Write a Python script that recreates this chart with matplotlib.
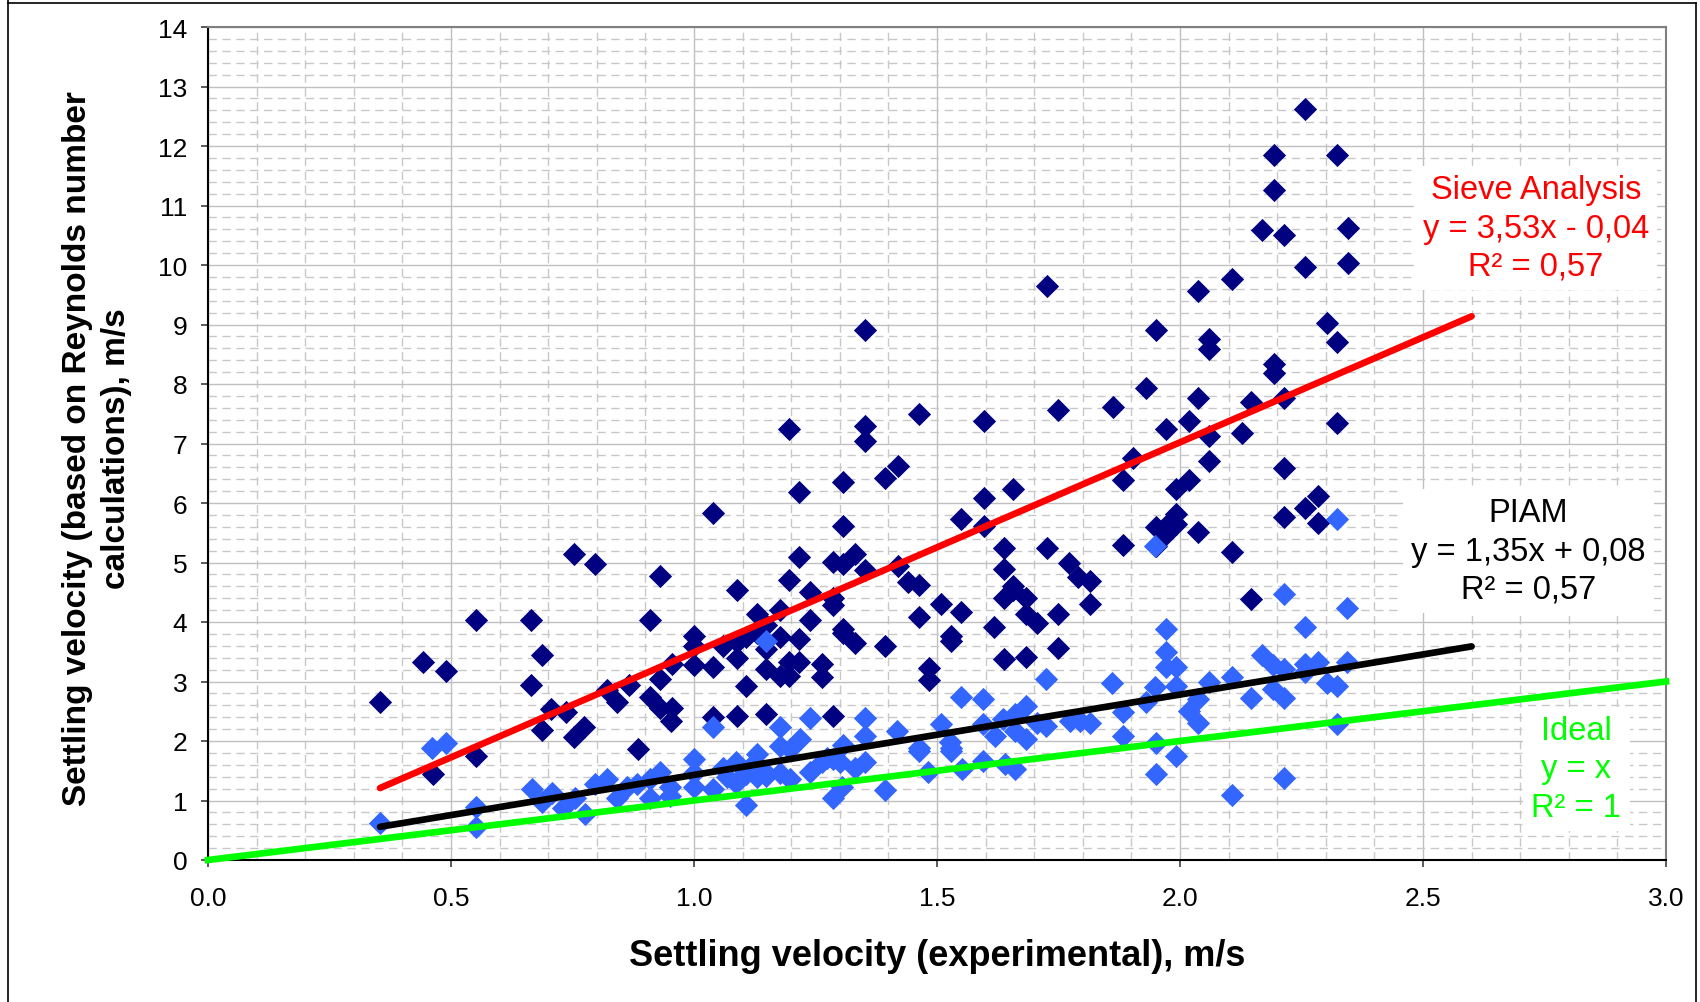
import numpy as np
import matplotlib.pyplot as plt
from matplotlib.lines import Line2D
from matplotlib.ticker import MultipleLocator

# --- data ---
# Sieve analysis (dark navy diamonds)
sieve_x = [0.354, 0.442, 0.463, 0.490, 0.551, 0.551, 0.665, 0.665, 0.687, 0.687,
           0.705, 0.736, 0.754, 0.754, 0.774, 0.796, 0.820, 0.842, 0.866, 0.885,
           0.910, 0.910, 0.931, 0.931, 0.931, 0.952, 0.954, 0.954, 0.999, 0.999,
           0.999, 1.040, 1.040, 1.040, 1.060, 1.088, 1.088, 1.088, 1.088, 1.108,
           1.108, 1.129, 1.129, 1.149, 1.149, 1.149, 1.149, 1.176, 1.176, 1.176,
           1.196, 1.196, 1.196, 1.196, 1.217, 1.217, 1.217, 1.217, 1.239, 1.239,
           1.263, 1.263, 1.285, 1.285, 1.285, 1.285, 1.306, 1.306, 1.306, 1.306,
           1.306, 1.332, 1.332, 1.351, 1.352, 1.352, 1.352, 1.394, 1.394, 1.420,
           1.420, 1.440, 1.462, 1.462, 1.462, 1.483, 1.483, 1.509, 1.529, 1.529,
           1.549, 1.549, 1.597, 1.597, 1.597, 1.617, 1.638, 1.638, 1.638, 1.638,
           1.657, 1.657, 1.657, 1.684, 1.684, 1.684, 1.706, 1.726, 1.727, 1.748,
           1.748, 1.748, 1.772, 1.790, 1.815, 1.815, 1.863, 1.882, 1.882, 1.903,
           1.930, 1.951, 1.951, 1.951, 1.971, 1.971, 1.971, 1.992, 1.992, 1.992,
           2.018, 2.018, 2.038, 2.038, 2.038, 2.059, 2.059, 2.059, 2.059, 2.106,
           2.106, 2.127, 2.147, 2.147, 2.168, 2.194, 2.194, 2.194, 2.194, 2.214,
           2.214, 2.214, 2.214, 2.257, 2.257, 2.257, 2.283, 2.283, 2.303, 2.324,
           2.324, 2.324, 2.345, 2.345]
sieve_y = [2.66, 3.33, 1.45, 3.17, 4.03, 1.75, 4.03, 2.94, 3.45, 2.19,
           2.54, 2.49, 5.14, 2.07, 2.24, 4.97, 2.86, 2.66, 2.94, 1.87,
           4.03, 2.74, 4.78, 3.05, 2.55, 2.34, 3.29, 2.55, 3.77, 3.60,
           3.28, 5.84, 3.24, 2.40, 3.60, 4.54, 3.66, 3.40, 2.42, 3.74,
           2.93, 4.13, 3.82, 3.95, 3.55, 3.21, 2.45, 4.20, 3.74, 3.10,
           7.24, 4.71, 3.33, 3.10, 6.19, 5.10, 3.72, 3.32, 4.51, 4.04,
           3.29, 3.08, 5.01, 4.41, 4.28, 2.42, 6.35, 5.61, 4.97, 3.89,
           3.82, 5.14, 3.64, 8.90, 7.30, 7.05, 4.88, 6.42, 3.60, 6.63,
           4.94, 4.67, 7.50, 4.62, 4.08, 3.22, 3.02, 4.31, 3.77, 3.68,
           5.73, 4.16, 7.37, 6.08, 5.62, 3.92, 5.24, 4.89, 4.41, 3.38,
           6.23, 4.61, 4.53, 4.40, 4.14, 3.41, 3.99, 9.65, 5.25, 7.57,
           4.14, 3.57, 4.99, 4.75, 4.69, 4.31, 7.61, 6.39, 5.29, 6.75,
           7.93, 8.91, 5.59, 5.28, 7.25, 5.62, 5.48, 6.23, 5.82, 5.65,
           7.37, 6.39, 9.57, 7.76, 5.52, 8.76, 8.58, 7.13, 6.71, 9.76,
           5.17, 7.18, 7.69, 4.39, 10.59, 11.85, 11.26, 8.34, 8.19, 10.51,
           7.76, 6.58, 5.77, 12.63, 9.96, 5.92, 6.12, 5.67, 9.02, 11.85,
           8.70, 7.34, 10.63, 10.04]

# PIAM (light blue diamonds)
piam_x = [0.354, 0.460, 0.490, 0.551, 0.551, 0.666, 0.687, 0.707, 0.731, 0.755,
          0.776, 0.796, 0.822, 0.842, 0.863, 0.883, 0.909, 0.909, 0.930, 0.951,
          0.951, 0.999, 0.999, 0.999, 1.040, 1.040, 1.060, 1.067, 1.087, 1.087,
          1.108, 1.108, 1.120, 1.129, 1.130, 1.149, 1.149, 1.149, 1.176, 1.176,
          1.176, 1.198, 1.198, 1.218, 1.239, 1.239, 1.263, 1.273, 1.285, 1.285,
          1.300, 1.304, 1.307, 1.331, 1.352, 1.352, 1.352, 1.393, 1.417, 1.462,
          1.462, 1.482, 1.508, 1.527, 1.529, 1.529, 1.549, 1.551, 1.595, 1.595,
          1.595, 1.619, 1.636, 1.640, 1.660, 1.660, 1.660, 1.684, 1.684, 1.705,
          1.725, 1.725, 1.774, 1.794, 1.815, 1.861, 1.882, 1.882, 1.930, 1.949,
          1.949, 1.951, 1.951, 1.971, 1.971, 1.971, 1.992, 1.992, 1.992, 2.019,
          2.038, 2.038, 2.060, 2.106, 2.106, 2.147, 2.168, 2.192, 2.192, 2.214,
          2.214, 2.214, 2.214, 2.257, 2.257, 2.257, 2.283, 2.302, 2.324, 2.324,
          2.324, 2.344, 2.344]
piam_y = [0.63, 1.88, 1.96, 0.89, 0.55, 1.20, 0.97, 1.13, 0.87, 1.05,
          0.77, 1.28, 1.36, 1.05, 1.22, 1.28, 1.05, 1.36, 1.48, 1.22,
          1.08, 1.70, 1.46, 1.22, 2.23, 1.20, 1.55, 1.39, 1.64, 1.30,
          1.45, 0.93, 1.60, 1.78, 1.40, 3.68, 1.47, 1.42, 2.23, 1.92,
          1.47, 1.87, 1.36, 2.03, 2.38, 1.48, 1.64, 1.72, 1.70, 1.05,
          1.64, 1.22, 1.93, 1.54, 2.38, 2.09, 1.64, 1.17, 2.16, 1.88,
          1.83, 1.48, 2.29, 1.98, 1.88, 1.83, 2.74, 1.53, 2.71, 2.29,
          1.67, 2.09, 2.37, 1.61, 2.45, 2.17, 1.53, 2.59, 2.03, 2.31,
          3.05, 2.26, 2.34, 2.34, 2.31, 2.97, 2.48, 2.08, 2.66, 5.27,
          2.90, 1.97, 1.45, 3.88, 3.50, 3.25, 3.25, 2.92, 1.75, 2.50,
          2.71, 2.31, 3.00, 3.08, 1.09, 2.73, 3.45, 3.27, 2.87, 4.47,
          3.21, 2.73, 1.37, 3.92, 3.29, 3.16, 3.32, 2.97, 5.73, 2.93,
          2.29, 4.23, 3.32]

# trend lines as given in the chart labels: (slope, intercept)
sieve_fit = (3.53, -0.04)
piam_fit = (1.35, 0.08)
ideal_fit = (1.0, 0.0)
fit_x_end = 2.6
ideal_x_range = (0.0, 3.0)

sieve_label = "Sieve Analysis\ny = 3,53x - 0,04\nR\u00b2 = 0,57"
piam_label = "PIAM\ny = 1,35x + 0,08\nR\u00b2 = 0,57"
ideal_label = "Ideal\ny = x\nR\u00b2 = 1"

navy = "#000080"
light_blue = "#3366FF"
red = "#FF0000"
green = "#00FF00"

plt.rcParams['font.family'] = ['Liberation Sans', 'DejaVu Sans']

W, H = 1700, 1003
fig = plt.figure(figsize=(W / 100, H / 100), dpi=100)
ax = fig.add_axes([208 / W, 1 - 861 / H, 1458 / W, 833 / H])

# grid: solid major, dashed minor
ax.set_xlim(0, 3.0)
ax.set_ylim(0, 14)
ax.xaxis.set_major_locator(MultipleLocator(0.5))
ax.xaxis.set_minor_locator(MultipleLocator(0.1))
ax.yaxis.set_major_locator(MultipleLocator(1))
ax.yaxis.set_minor_locator(MultipleLocator(0.2))
ax.set_axisbelow(True)
ax.grid(which='major', color='#C0C0C0', lw=1.0, ls='-')
ax.grid(which='minor', color='#C8C8C8', lw=1.0, ls=(0, (6, 4)))

ax.scatter(sieve_x, sieve_y, marker='D', s=140, color=navy, lw=0, zorder=3)
ax.scatter(piam_x, piam_y, marker='D', s=140, color=light_blue, lw=0, zorder=4)

x0 = min(sieve_x)
fx = np.array([x0, fit_x_end])
ax.plot(fx, sieve_fit[0] * fx + sieve_fit[1], color=red, lw=4.8, zorder=5,
        solid_capstyle='round')
ax.plot(fx, piam_fit[0] * fx + piam_fit[1], color='black', lw=4.8, zorder=5,
        solid_capstyle='round')
ix = np.array(ideal_x_range)
ax.plot(ix, ideal_fit[0] * ix + ideal_fit[1], color=green, lw=4.8, zorder=5,
        clip_on=False)

box = dict(facecolor='white', edgecolor='none', pad=6)
ax.text(2.732, 10.62, sieve_label, color=red, fontsize=23.5, ha='center',
        va='center', linespacing=1.3, bbox=box, zorder=6)
ax.text(2.717, 5.19, piam_label, color='black', fontsize=23.5, ha='center',
        va='center', linespacing=1.3, bbox=box, zorder=6)
ax.text(2.815, 1.53, ideal_label, color=green, fontsize=23.5, ha='center',
        va='center', linespacing=1.3, bbox=box, zorder=6)

# axes frame and ticks
for side in ('left', 'bottom'):
    ax.spines[side].set_color('black')
    ax.spines[side].set_linewidth(1.5)
for side in ('top', 'right'):
    ax.spines[side].set_color('#808080')
    ax.spines[side].set_linewidth(1.5)
ax.tick_params(which='major', direction='out', length=5, width=1.2,
               color='#404040')
ax.tick_params(which='minor', length=0)
ax.tick_params(axis='y', labelsize=19, pad=10)
ax.tick_params(axis='x', labelsize=19, pad=14)
ax.set_xticklabels([f"{v:.1f}" for v in ax.get_xticks()])

ax.set_xlabel("Settling velocity (experimental), m/s", fontsize=26,
              fontweight='bold', va='center')
ax.xaxis.set_label_coords(0.5, -0.115)
ax.set_ylabel("Settling velocity (based on Reynolds number\ncalculations), m/s",
              fontsize=24, fontweight='bold', va='center', linespacing=1.35)
ax.yaxis.set_label_coords(-0.076, 0.495)

# outer frame of the picture
for xs, ys in (([8, 8], [0, H]), ([8, 1696], [4, 4]), ([1696, 1696], [4, H])):
    fig.add_artist(Line2D([x / W for x in xs], [1 - y / H for y in ys],
                          color='black', lw=1.2))

fig.savefig("out.png", dpi=100, facecolor='white')
